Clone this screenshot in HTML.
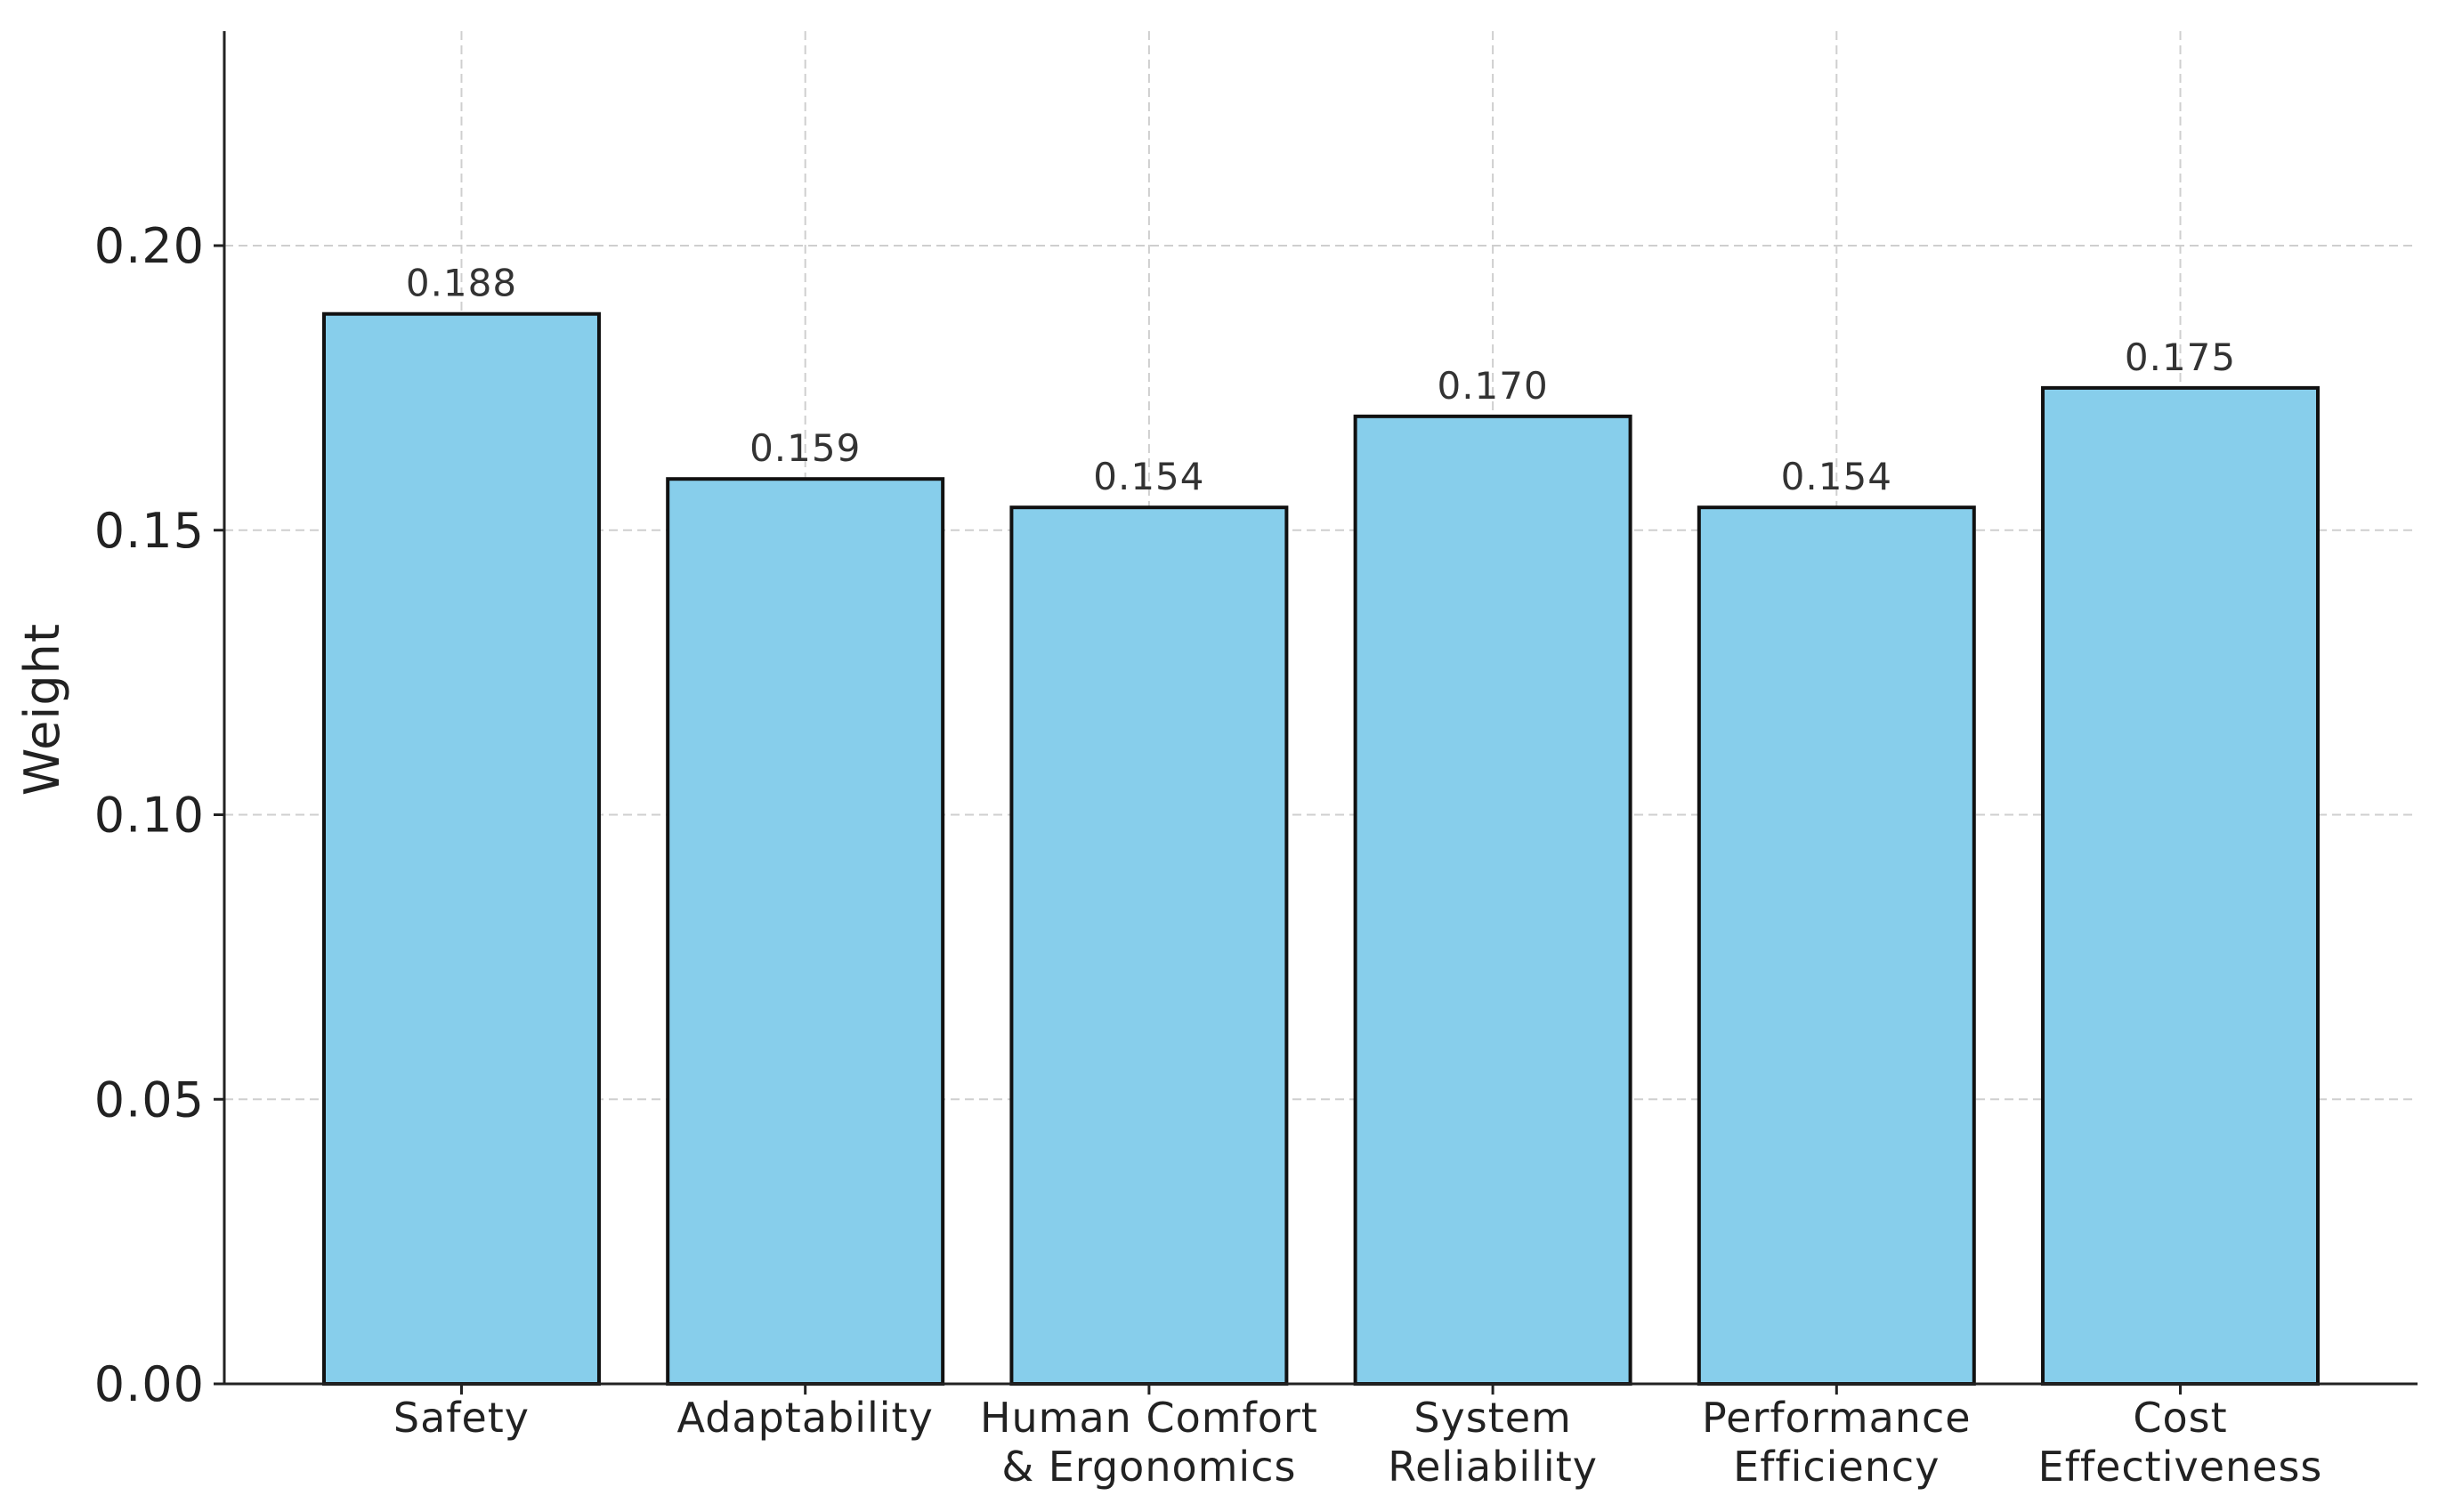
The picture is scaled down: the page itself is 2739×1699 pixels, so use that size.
<!DOCTYPE html>
<html><head><meta charset="utf-8"><style>
html,body{margin:0;padding:0;background:#fff;}
svg text{font-family:"DejaVu Sans","Liberation Sans",sans-serif;}
</style></head><body>
<svg id="chart" width="2739" height="1694" viewBox="0 0 2739 1694" xmlns="http://www.w3.org/2000/svg">
<g id="grid"></g>
<g id="bars"></g>
<g id="axes"></g>
<text transform="translate(66,797) rotate(-90)" text-anchor="middle" font-size="54" letter-spacing="1" fill="#222">Weight</text>
</svg>
<script>
const categories = [["Safety"],["Adaptability"],["Human Comfort","& Ergonomics"],["System","Reliability"],["Performance","Efficiency"],["Cost","Effectiveness"]];
const values = [0.188,0.159,0.154,0.170,0.154,0.175];
const valueLabels = ["0.188","0.159","0.154","0.170","0.154","0.175"];
const yTicks = [0,0.05,0.10,0.15,0.20];
const yTickLabels = ["0.00","0.05","0.10","0.15","0.20"];

const NS="http://www.w3.org/2000/svg";
const plotLeft=252,plotRight=2716,plotTop=35,plotBottom=1555;
const y0px=1555, pxPerUnit=(1555-276)/0.20;
const xMin=-0.69, xMax=categories.length-1+0.69;
function xs(i){return plotLeft+(i-xMin)/(xMax-xMin)*(plotRight-plotLeft);}
function ys(v){return y0px-v*pxPerUnit;}
const step=(plotRight-plotLeft)/(xMax-xMin), bw=step*0.8;
function mk(tag,attrs,parent){const e=document.createElementNS(NS,tag);for(const k in attrs)e.setAttribute(k,attrs[k]);parent.appendChild(e);return e;}
const gridG=document.getElementById('grid'),barsG=document.getElementById('bars'),axesG=document.getElementById('axes');
yTicks.forEach((t,i)=>{
  const y=ys(t);
  if(t>0){const g=mk('line',{x1:plotLeft,x2:plotRight,y1:y,y2:y,stroke:'#cfcfcf','stroke-width':2,'stroke-dasharray':'10,6'},gridG);
  
  }
  const tk=mk('line',{x1:plotLeft-12,x2:plotLeft,y1:y,y2:y,stroke:'#222','stroke-width':3},axesG);
  
  
  const tl=mk('text',{x:plotLeft-22,y:y+19,'text-anchor':'end','font-size':54,'letter-spacing':1,fill:'#222'},axesG);
  tl.textContent=yTickLabels[i];
  
  
});
categories.forEach((c,i)=>{
  const x=xs(i);
  const g=mk('line',{x1:x,x2:x,y1:plotTop,y2:plotBottom,stroke:'#cfcfcf','stroke-width':2,'stroke-dasharray':'10,6'},gridG);
  
  
  const r=mk('rect',{x:x-bw/2,y:ys(values[i]),width:bw,height:ys(0)-ys(values[i]),fill:'#87ceeb',stroke:'#111','stroke-width':4},barsG);
  
  
  const vl=mk('text',{x:x,y:ys(values[i])-20,'text-anchor':'middle','font-size':42,'letter-spacing':1,fill:'#333'},barsG);
  vl.textContent=valueLabels[i];
  
  
  const tk=mk('line',{x1:x,x2:x,y1:plotBottom,y2:plotBottom+12,stroke:'#222','stroke-width':3},axesG);
  
  
  c.forEach((line,j)=>{
    const t=mk('text',{x:x,y:1609+j*55,'text-anchor':'middle','font-size':46,'letter-spacing':1,fill:'#222'},axesG);
    t.textContent=line;
    
    
  });
});
const l1=mk('line',{x1:plotLeft,x2:plotLeft,y1:plotTop,y2:plotBottom+1.5,stroke:'#222','stroke-width':3},axesG);


const l2=mk('line',{x1:plotLeft-1.5,x2:plotRight,y1:plotBottom,y2:plotBottom,stroke:'#222','stroke-width':3},axesG);


</script>
</body></html>
